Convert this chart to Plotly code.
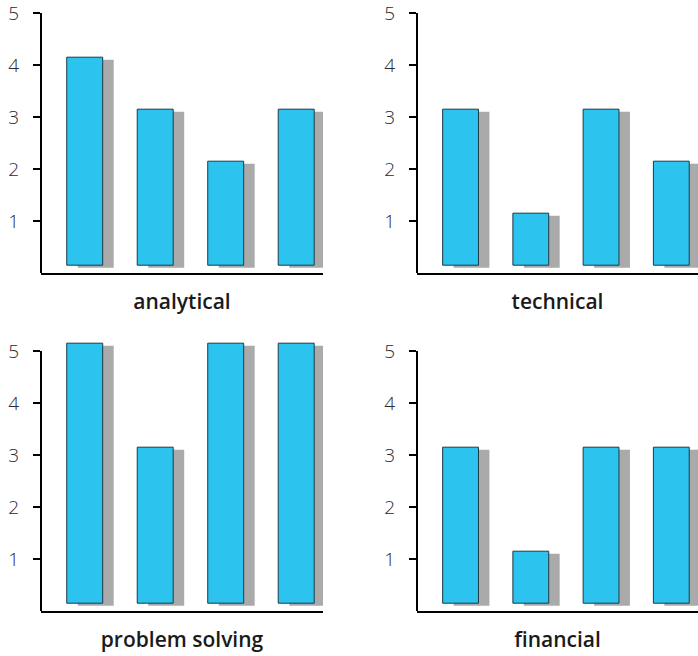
import plotly.graph_objects as go

# Four ratings per skill area
options = ["A", "B", "C", "D"]
analytical = [4, 3, 2, 3]
technical = [3, 1, 3, 2]
problem_solving = [5, 3, 5, 5]
financial = [3, 1, 3, 3]

panels = [
    ("analytical", analytical),
    ("technical", technical),
    ("problem solving", problem_solving),
    ("financial", financial),
]

W, H = 698, 656
BAR = "#2cc3ef"
SHADOW = "#aaaaaa"
EDGE = "#1d3944"
FONT = "'Open Sans', sans-serif"

# pixel boxes of each plot area: (left, right, top of "5" tick, bottom)
boxes = [
    (41, 323, 13, 273),
    (417, 698, 13, 273),
    (41, 323, 351, 611),
    (417, 698, 351, 611),
]

top_val = 5.0
head = 0.25                 # room above the top tick so tall bars are not clipped
px_per_unit = 260 / top_val

bar_w = 0.51
lift = 0.15      # bars float slightly above the baseline
drop = 0.05      # shadow sits a little lower
shift = 0.156    # shadow shifted to the right

fig = go.Figure()
for i, ((title, vals), (l, r, t, b)) in enumerate(zip(panels, boxes)):
    n = "" if i == 0 else str(i + 1)
    xa, ya = "x" + n, "y" + n
    fig.add_trace(go.Bar(
        x=options, y=vals, base=lift - drop, width=bar_w,
        offset=-bar_w / 2 + shift, marker=dict(color=SHADOW, line=dict(width=0)),
        xaxis=xa, yaxis=ya, hoverinfo="skip", showlegend=False,
    ))
    fig.add_trace(go.Bar(
        x=options, y=vals, base=lift, width=bar_w, offset=-bar_w / 2,
        marker=dict(color=BAR, line=dict(color=EDGE, width=1)),
        xaxis=xa, yaxis=ya, showlegend=False,
    ))
    top_px = t - head * px_per_unit
    fig.layout["xaxis" + n] = dict(
        domain=[l / W, r / W], anchor=ya, type="category",
        range=[-0.62, 3.38], showticklabels=False, ticks="",
        showgrid=False, zeroline=False, showline=True, automargin=False,
        linecolor="black", linewidth=2, fixedrange=True,
        title=dict(text=title, standoff=20,
                   font=dict(family=FONT, size=21, color="#1a1a1a", weight=600)),
    )
    fig.layout["yaxis" + n] = dict(
        domain=[(H - b) / H, (H - top_px) / H], anchor=xa,
        range=[0, top_val + head], tickvals=[1, 2, 3, 4, 5], ticks="outside",
        ticklen=7, tickwidth=2, tickcolor="black", ticklabelstandoff=10,
        ticklabeloverflow="allow",
        showgrid=False, zeroline=False, showline=False, automargin=False,
        fixedrange=True,
        tickfont=dict(family=FONT, size=19, color="#2a2a2a", weight=300),
    )
    # vertical axis line stops at the top tick
    fig.add_shape(type="line", xref=xa + " domain", yref=ya,
                  x0=0, x1=0, y0=0, y1=top_val,
                  line=dict(color="black", width=2))

fig.update_layout(
    width=W, height=H, barmode="overlay",
    margin=dict(l=0, r=0, t=0, b=0, autoexpand=False),
    paper_bgcolor="white", plot_bgcolor="white",
)
fig.write_html("out.html")
